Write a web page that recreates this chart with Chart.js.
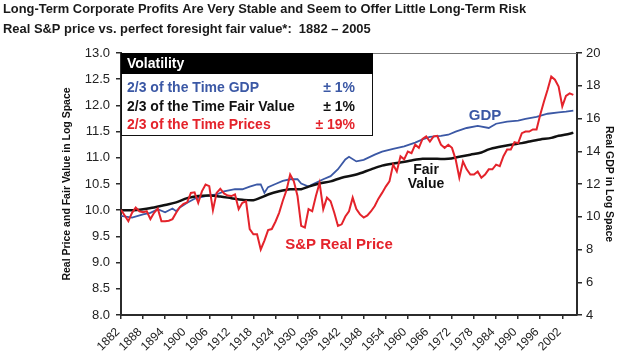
<!DOCTYPE html>
<html><head><meta charset="utf-8">
<script src="https://cdn.jsdelivr.net/npm/chart.js@4.4.1/dist/chart.umd.min.js"></script>
<style>html,body{margin:0;padding:0;background:#fff}canvas{display:block}</style>
</head><body>
<canvas id="c" width="620" height="357"></canvas>
<script>
const titleText = "Long-Term Corporate Profits Are Very Stable and Seem to Offer Little Long-Term Risk";
const subtitleText = "Real S\u0026P price vs. perfect foresight fair value*:  1882 \u2013 2005";
const leftAxisTitle = "Real Price and Fair Value in Log Space";
const rightAxisTitle = "Real GDP in Log Space";
const legendHeader = "Volatility";
const legendLabels = ["2/3 of the Time GDP", "2/3 of the Time Fair Value", "2/3 of the Time Prices"];
const legendValues = ["\u00b1 1%", "\u00b1 1%", "\u00b1 19%"];
const seriesNames = ["S\u0026P Real Price", "Fair Value", "GDP"];

const xTickYears = [1882,1888,1894,1900,1906,1912,1918,1924,1930,1936,1942,1948,1954,1960,1966,1972,1978,1984,1990,1996,2002];
const leftTicks = [8.0,8.5,9.0,9.5,10.0,10.5,11.0,11.5,12.0,12.5,13.0];
const rightTicks = [4,6,8,10,12,14,16,18,20];

const priceYears = [];
for (let y = 1882; y <= 2005; y++) priceYears.push(y);
const priceValues = [
10.01,9.90,9.79,9.95,10.05,9.98,9.96,9.98,9.83,9.95,
10.03,9.79,9.79,9.80,9.83,9.95,10.06,10.12,10.15,10.33,
10.34,10.14,10.36,10.49,10.46,10.00,10.33,10.41,10.32,10.28,
10.27,10.30,10.02,10.14,10.17,9.64,9.54,9.54,9.25,9.42,
9.62,9.64,9.78,9.95,10.18,10.38,10.68,10.55,10.27,9.70,
9.67,10.02,9.98,10.27,10.52,10.02,10.24,10.17,9.95,9.70,
9.73,9.88,9.98,10.24,10.02,9.92,9.86,9.90,9.98,10.08,
10.22,10.33,10.45,10.55,10.87,10.74,11.03,10.97,11.12,11.09,
11.25,11.19,11.36,11.41,11.31,11.41,11.42,11.25,11.19,11.25,
11.19,10.97,10.62,10.93,10.78,10.68,10.68,10.74,10.62,10.68,
10.78,10.78,10.87,10.84,11.03,11.16,11.16,11.30,11.28,11.47,
11.50,11.50,11.54,11.54,11.82,12.07,12.30,12.55,12.49,12.36,
11.98,12.18,12.23,12.20];

const fairYears = [1882,1885,1888,1891,1894,1897,1900,1903,1906,1909,1912,1915,1918,1920,1922,1925,1928,1931,1933,1936,1939,1942,1946,1950,1953,1957,1961,1964,1968,1971,1974,1977,1980,1982,1985,1988,1991,1993,1996,1999,2001,2004,2005];
const fairValues = [10.00,10.00,10.02,10.05,10.10,10.15,10.23,10.27,10.28,10.26,10.23,10.20,10.19,10.24,10.30,10.36,10.40,10.40,10.45,10.51,10.55,10.62,10.68,10.78,10.85,10.90,10.95,10.98,10.98,10.98,11.02,11.06,11.10,11.16,11.21,11.25,11.28,11.31,11.35,11.38,11.42,11.46,11.48];

const gdpYears = [1882,1885,1888,1890,1892,1894,1896,1897,1898,1900,1902,1905,1908,1910,1913,1915,1917,1919,1920,1921,1922,1924,1926,1928,1930,1931,1933,1934,1937,1939,1941,1943,1944,1946,1948,1951,1953,1956,1959,1962,1964,1966,1969,1971,1973,1976,1979,1982,1984,1987,1990,1992,1995,1998,2001,2003,2005];
const gdpValues = [10.05,9.95,10.14,10.24,10.46,10.27,10.50,10.34,10.56,10.85,11.10,11.26,11.36,11.55,11.68,11.68,11.84,11.97,11.97,11.46,11.81,12.00,12.19,12.29,12.29,12.03,11.84,11.97,12.29,12.48,12.90,13.50,13.66,13.38,13.47,13.79,13.98,14.14,14.30,14.53,14.72,14.88,14.94,15.01,15.20,15.42,15.55,15.42,15.68,15.81,15.87,15.97,16.10,16.29,16.38,16.42,16.48];

const RED = '#e4232b', BLUE = '#3b58a5', BLACK = '#111111', AXIS = '#2b2b2b';
const FF = '"Liberation Sans", Arial, Helvetica, sans-serif';

const pairs = (xs, ys) => xs.map((x, i) => ({x: x, y: ys[i]}));

function fitText(ctx, text, x, y, targetW, baseSize) {
  ctx.font = 'bold ' + baseSize + 'px ' + FF;
  const w = ctx.measureText(text).width;
  const size = baseSize * targetW / w;
  ctx.font = 'bold ' + size.toFixed(2) + 'px ' + FF;
  ctx.fillText(text, x, y);
}

const overlay = {
  id: 'overlay',
  afterDraw(chart) {
    const ctx = chart.ctx;
    const ca = chart.chartArea;
    ctx.save();
    ctx.fillStyle = '#1a1a1a';
    ctx.textBaseline = 'middle';
    ctx.textAlign = 'left';
    fitText(ctx, titleText, 3, 9.5, 524, 13);
    fitText(ctx, subtitleText, 3, 29, 368, 13);
    ctx.strokeStyle = '#777';
    ctx.lineWidth = 1;
    ctx.beginPath();
    ctx.moveTo(ca.left, ca.top + 0.5);
    ctx.lineTo(ca.right, ca.top + 0.5);
    ctx.stroke();
    const bx = ca.left, by = ca.top, bw = 251, bh = 82;
    ctx.fillStyle = '#fff';
    ctx.fillRect(bx, by, bw, bh);
    ctx.strokeStyle = '#111';
    ctx.lineWidth = 1;
    ctx.strokeRect(bx + 0.5, by + 0.5, bw, bh);
    ctx.fillStyle = '#000';
    ctx.fillRect(bx, by, bw + 1, 21);
    ctx.font = 'bold 14px ' + FF;
    ctx.fillStyle = '#fff';
    ctx.fillText(legendHeader, bx + 6, by + 11.5);
    const cols = [BLUE, BLACK, RED];
    legendLabels.forEach((t, i) => {
      const yy = by + 35.5 + i * 18.5;
      ctx.fillStyle = cols[i];
      ctx.textAlign = 'left';
      ctx.fillText(t, bx + 6, yy);
      ctx.textAlign = 'right';
      ctx.fillText(legendValues[i], bx + 234, yy);
    });
    ctx.textAlign = 'center';
    ctx.font = 'bold 15px ' + FF;
    ctx.fillStyle = BLUE;
    ctx.fillText(seriesNames[2], 485, 115.5);
    ctx.fillStyle = BLACK;
    ctx.font = 'bold 14px ' + FF;
    ctx.fillText('Fair', 426, 170.5);
    ctx.fillText('Value', 426, 184.5);
    ctx.fillStyle = RED;
    ctx.font = 'bold 15px ' + FF;
    ctx.fillText(seriesNames[0], 339, 244.5);
    ctx.restore();
  }
};

const tickFont = {family: FF, size: 13};
new Chart(document.getElementById('c'), {
  type: 'line',
  data: {
    datasets: [
      {label: seriesNames[0], data: pairs(priceYears, priceValues), borderColor: RED, borderWidth: 2, pointRadius: 0, tension: 0, yAxisID: 'y'},
      {label: seriesNames[1], data: pairs(fairYears, fairValues), borderColor: BLACK, borderWidth: 2.5, pointRadius: 0, tension: 0.3, yAxisID: 'y'},
      {label: seriesNames[2], data: pairs(gdpYears, gdpValues), borderColor: BLUE, borderWidth: 1.8, pointRadius: 0, tension: 0, yAxisID: 'y2'}
    ]
  },
  options: {
    responsive: false,
    animation: false,
    devicePixelRatio: 1,
    layout: {padding: {left: 57, right: 1, top: 53, bottom: 0}},
    plugins: {legend: {display: false}, tooltip: {enabled: false}},
    scales: {
      x: {
        type: 'linear', min: 1882, max: 2006,
        afterBuildTicks: s => { s.ticks = xTickYears.map(v => ({value: v})); },
        afterFit: s => { s.height = 42; },
        ticks: {color: '#222', font: {family: FF, size: 12}, minRotation: 45, maxRotation: 45, padding: 6, labelOffset: -3, autoSkip: false, callback: v => String(v)},
        grid: {display: true, drawOnChartArea: false, tickLength: 4, color: AXIS, lineWidth: 1.5},
        border: {display: true, color: AXIS, width: 2}
      },
      y: {
        position: 'left', min: 8, max: 13,
        afterBuildTicks: s => { s.ticks = leftTicks.map(v => ({value: v})); },
        afterFit: s => { s.width = 64; },
        ticks: {color: '#222', font: tickFont, padding: 6, callback: v => Number(v).toFixed(1)},
        grid: {display: true, drawOnChartArea: false, tickLength: 5, color: AXIS, lineWidth: 1.5},
        border: {display: true, color: AXIS, width: 2},
        title: {display: true, text: leftAxisTitle, color: '#111', font: {family: FF, size: 10.5, weight: 'bold'}, padding: {top: 4, bottom: 4}}
      },
      y2: {
        position: 'right', min: 4, max: 20,
        afterBuildTicks: s => { s.ticks = rightTicks.map(v => ({value: v})); },
        afterFit: s => { s.width = 42; },
        ticks: {color: '#222', font: tickFont, padding: 4, callback: v => String(v)},
        grid: {display: true, drawOnChartArea: false, tickLength: 5, color: AXIS, lineWidth: 1.5},
        border: {display: true, color: AXIS, width: 2},
        title: {display: true, text: rightAxisTitle, color: '#111', font: {family: FF, size: 10.5, weight: 'bold'}, padding: {top: 4, bottom: 4}}
      }
    }
  },
  plugins: [overlay]
});
</script>
</body></html>
